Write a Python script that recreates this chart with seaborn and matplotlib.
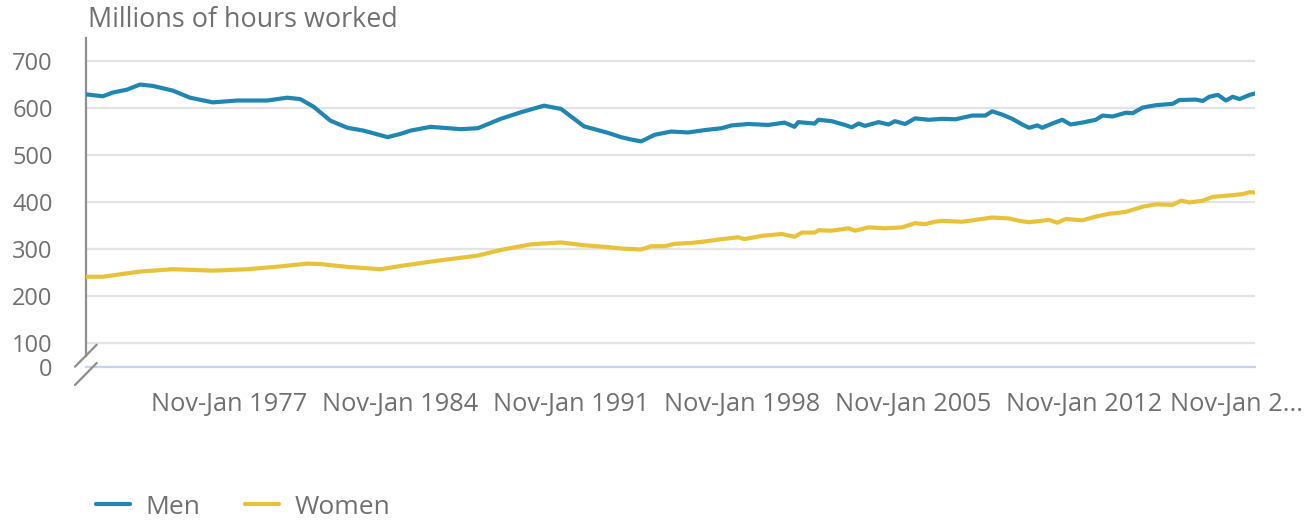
import numpy as np
import pandas as pd
import seaborn as sns
import matplotlib.pyplot as plt

# values (fractional year, millions of hours)
men_years = [1971.16, 1971.83, 1972.24, 1972.81, 1973.35, 1973.88, 1974.70, 1975.40,
             1976.34, 1977.33, 1978.56, 1979.38, 1979.91, 1980.45, 1981.15, 1981.84,
             1982.50, 1983.49, 1984.02, 1984.43, 1985.25, 1986.48, 1987.18, 1988.12,
             1988.95, 1989.89, 1990.59, 1991.53, 1992.52, 1993.05, 1993.46, 1993.87,
             1994.42, 1995.10, 1995.79, 1996.46, 1997.16, 1997.57, 1998.25, 1999.07,
             1999.74, 2000.15, 2000.30, 2000.97, 2001.13, 2001.67, 2002.21, 2002.49,
             2002.77, 2003.03, 2003.59, 2004.00, 2004.26, 2004.68, 2005.08, 2005.64,
             2006.19, 2006.73, 2007.42, 2007.96, 2008.24, 2008.65, 2009.06, 2009.47,
             2009.75, 2010.09, 2010.29, 2010.70, 2011.11, 2011.45, 2011.93, 2012.48,
             2012.76, 2013.17, 2013.71, 2013.99, 2014.40, 2014.94, 2015.63, 2015.90,
             2016.58, 2016.86, 2017.13, 2017.48, 2017.81, 2018.09, 2018.37, 2018.78,
             2019.00]
men_hours = [629, 625, 633, 639, 650, 647, 637, 622,
             612, 616, 616, 622, 619, 603, 573, 558,
             552, 538, 545, 552, 560, 555, 557, 577,
             591, 605, 598, 561, 547, 538, 533, 529,
             543, 550, 548, 553, 557, 563, 566, 564,
             569, 560, 570, 567, 575, 572, 564, 559,
             567, 562, 570, 565, 572, 566, 578, 575,
             577, 576, 584, 584, 593, 586, 577, 565,
             558, 563, 558, 567, 575, 565, 569, 575,
             584, 582, 590, 589, 601, 606, 609, 617,
             618, 615, 624, 628, 616, 624, 619, 628,
             631]

women_years = [1971.16, 1971.83, 1972.65, 1973.35, 1974.70, 1976.34, 1977.74, 1979.09,
               1980.20, 1980.74, 1981.84, 1983.20, 1984.02, 1984.43, 1985.37, 1987.18,
               1988.12, 1989.36, 1990.59, 1991.53, 1992.52, 1993.05, 1993.87, 1994.28,
               1994.83, 1995.24, 1995.93, 1996.46, 1997.16, 1997.84, 1998.10, 1998.80,
               1999.62, 2000.15, 2000.45, 2000.97, 2001.13, 2001.67, 2002.36, 2002.62,
               2003.18, 2003.86, 2004.55, 2005.08, 2005.49, 2005.90, 2006.19, 2007.01,
               2007.56, 2008.24, 2008.93, 2009.34, 2009.75, 2010.57, 2010.91, 2011.25,
               2011.93, 2012.48, 2013.03, 2013.71, 2014.40, 2014.94, 2015.63, 2015.98,
               2016.32, 2016.86, 2017.27, 2017.96, 2018.50, 2018.78, 2019.00]
women_hours = [241, 241, 247, 252, 257, 254, 257, 263,
               269, 268, 262, 257, 264, 267, 274, 286,
               298, 310, 314, 308, 304, 301, 299, 306,
               306, 311, 313, 316, 321, 325, 321, 328,
               332, 326, 335, 335, 340, 339, 344, 339,
               346, 344, 346, 355, 353, 358, 360, 358,
               362, 367, 365, 360, 357, 362, 356, 364,
               361, 369, 375, 379, 390, 395, 394, 403,
               399, 403, 411, 414, 417, 421, 420]

tick_years = [1977, 1984, 1991, 1998, 2005, 2012, 2019]
tick_labels = ["Nov-Jan 1977", "Nov-Jan 1984", "Nov-Jan 1991", "Nov-Jan 1998",
               "Nov-Jan 2005", "Nov-Jan 2012", "Nov-Jan 2..."]
# the axis is broken below 100, "0" sits at the bottom of the axis
y_ticks = [50, 100, 200, 300, 400, 500, 600, 700]
y_tick_labels = ["0", "100", "200", "300", "400", "500", "600", "700"]

W, H = 1311, 521
text_col = "#707070"
palette = {"Men": "#1f87b2", "Women": "#e8c33a"}

sns.set_style("white")
plt.rcParams['font.family'] = ['Open Sans', 'DejaVu Sans']

df = pd.concat([
    pd.DataFrame({"year": men_years, "hours": men_hours, "series": "Men"}),
    pd.DataFrame({"year": women_years, "hours": women_hours, "series": "Women"}),
], ignore_index=True)

fig = plt.figure(figsize=(W / 100, H / 100), dpi=100)
ax = fig.add_axes([86 / W, 1 - 366.5 / H, (1255 - 86) / W, (366.5 - 38) / H])

sns.lineplot(data=df, x="year", y="hours", hue="series", palette=palette,
             linewidth=3.0, estimator=None, legend=False, ax=ax, zorder=3)

ax.set_xlim(1971.14, 2019.0)
ax.set_ylim(50, 749)
ax.set_xlabel("")
ax.set_ylabel("")

ax.set_yticks(y_ticks)
ax.set_yticklabels(y_tick_labels)
ax.set_xticks(tick_years)
# last label is squeezed in from the right edge, drawn separately below
ax.set_xticklabels(tick_labels[:-1] + [""])

ax.yaxis.grid(True, color="#e3e3e3", linewidth=1.6)
ax.xaxis.grid(False)
ax.tick_params(axis="y", length=0, pad=24, labelsize=17, labelcolor=text_col)
ax.tick_params(axis="x", length=14.5, width=1.6, color="#c9d4ea", pad=4,
               labelsize=18.3, labelcolor=text_col)
ax.annotate(tick_labels[-1], xy=(tick_years[-1], 0), xycoords=ax.get_xaxis_transform(),
            xytext=(-13, -18.5), textcoords="offset points", ha="center", va="top",
            fontsize=18.3, color=text_col, annotation_clip=False)

for side in ["top", "right"]:
    ax.spines[side].set_visible(False)
ax.spines["bottom"].set_color("#c9d4ea")
ax.spines["bottom"].set_linewidth(1.6)
ax.spines["left"].set_color("#8f8f8f")
ax.spines["left"].set_linewidth(1.6)
ax.spines["left"].set_bounds(72, 749)

# axis-break slashes
for y0 in [366.7, 385]:
    fig.add_artist(plt.Line2D([75 / W, 96.7 / W], [1 - y0 / H, 1 - (y0 - 22) / H],
                              transform=fig.transFigure, color="#8f8f8f", lw=1.6))

fig.text(88 / W, 1 - 20 / H, "Millions of hours worked", fontsize=19.4,
         color=text_col, va="center", ha="left")

handles = ax.get_lines()[:2]
fig.legend(handles, ["Men", "Women"], loc="center left",
           bbox_to_anchor=(96 / W, 1 - 507 / H), frameon=False, ncol=2,
           fontsize=19, labelcolor=text_col, handlelength=1.3,
           handletextpad=0.57, columnspacing=1.7, borderpad=0, borderaxespad=0)

fig.savefig("out.png", dpi=100)
